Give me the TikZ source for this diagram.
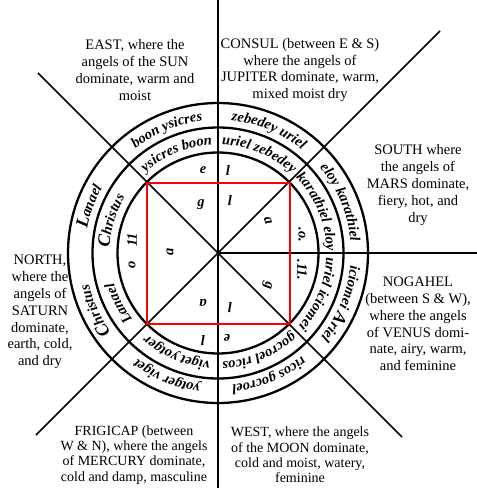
\documentclass[tikz,border=0pt]{standalone}
\usepackage{fontspec}
\setmainfont{Liberation Serif}
\newfontfamily\gothfam{Liberation Serif}
\usetikzlibrary{decorations.text}
\newcommand{\rf}{\gothfam\bfseries\itshape\fontsize{14.5}{15}\selectfont}
\newcommand{\rfbig}{\gothfam\bfseries\itshape\fontsize{18}{18}\selectfont}
\tikzset{
  corner/.style={align=center, font=\fontsize{14.5}{16.8}\selectfont, inner sep=0pt},
  cornersm/.style={align=center, font=\fontsize{14}{15.2}\selectfont, inner sep=0pt},
  ringline/.style={line width=2.3pt},
  spoke/.style={line width=1.6pt},
  glyph/.style={font=\rf, inner sep=0pt},
  redsq/.style={draw=red, line width=2.8pt},
}
\newcommand{\rtext}[4]{\path[decorate,decoration={text along path,text align=center,text={#4}}] (#1:#3pt) arc[start angle=#1,end angle=#2,radius=#3pt];}
\begin{document}
\begin{tikzpicture}[x=1pt,y=1pt]
\useasboundingbox (-218,-235) rectangle (259,253);
\coordinate (c) at (0,0);
\coordinate (top) at (0,253);
\coordinate (bot) at (0,-235);
\coordinate (e) at (259,0);
\coordinate (ne) at (222,222);
\coordinate (nw) at (-180,180);
\coordinate (se) at (184,-184);
\coordinate (sw) at (-182,-182);
% spokes
\draw[spoke] (top) -- (bot);
\draw[spoke] (c) -- (e);
\draw[spoke] (c) -- (ne);
\draw[spoke] (c) -- (nw);
\draw[spoke] (c) -- (se);
\draw[spoke] (c) -- (sw);
% rings
\draw[ringline] (c) circle (100.5pt);
\draw[ringline] (c) circle (125.5pt);
\draw[ringline] (c) circle (150pt);
% red square
\draw[redsq] (-71,70) rectangle (72,-71);
% outer ring texts
\rtext{135}{90}{133}{|\rf|boon ysicres}
\rtext{90}{45}{133}{|\rf|zebedey uriel}
\rtext{45}{0}{133}{|\rf|eloy karathiel}
\rtext{0}{-45}{133}{|\rf|iciomei |\rfbig|A|\rf|riel}
\rtext{-45}{-90}{133}{|\rf|ricos gocroel}
\rtext{-90}{-135}{133}{|\rf|yotger viget}
\rtext{225}{185}{133}{|\rfbig|C|\rf|hristus}
\rtext{180}{140}{133}{|\rfbig|L|\rf|anael}
% inner ring texts
\rtext{135}{90}{108.5}{|\rf|ysicres boon}
\rtext{90}{45}{108.5}{|\rf|uriel zebedey}
\rtext{45}{0}{108.5}{|\rf|karathiel eloy}
\rtext{0}{-45}{108.5}{|\rf|uriel iciomei}
\rtext{-45}{-90}{108.5}{|\rf|gocroel ricos}
\rtext{-90}{-135}{108.5}{|\rf|viget yotger}
\rtext{227}{187}{108.5}{|\rf|Lanael}
\rtext{183}{143}{108.5}{|\rfbig|C|\rf|hristus}
% small glyphs between square and inner circle
\node[glyph] (g1) at (-15,83) {e};
\node[glyph] (g2) at (10,83) {l};
\node[glyph, rotate=-90] (g3) at (84,18) {.o.};
\node[glyph, rotate=-90] (g4) at (84,-17) {.11.};
\node[glyph, rotate=90] (g5) at (-86,13) {11};
\node[glyph, rotate=90] (g6) at (-86,-12) {o};
\node[glyph, rotate=180] (g7) at (-15,-88) {l};
\node[glyph, rotate=180] (g8) at (9,-85) {e};
% glyphs inside square
\node[glyph] (s1) at (-17,48) {g};
\node[glyph] (s2) at (12,53) {l};
\node[glyph, rotate=-70] (s3) at (50,32) {a};
\node[glyph, rotate=-100] (s4) at (49,-32) {g};
\node[glyph, rotate=180] (s5) at (-15,-50) {a};
\node[glyph, rotate=180] (s6) at (12,-55) {l};
\node[glyph, rotate=90] (s7) at (-48,1) {a};
% corner texts
\node[corner] (east) at (-83,183) {EAST, where the\\angels of the SUN\\dominate, warm and\\moist};
\node[corner] (consul) at (82,183) {CONSUL (between E \& S)\\where the angels of\\JUPITER dominate, warm,\\mixed moist dry};
\node[corner] (south) at (200,68) {SOUTH where\\the angels of\\MARS dominate,\\fiery, hot, and\\dry};
\node[corner] (nogahel) at (200,-71) {NOGAHEL\\(between S \& W),\\where the angels\\of VENUS domi-\\nate, airy, warm,\\and feminine};
\node[corner] (north) at (-178,-59) {NORTH,\\where the\\angels of\\SATURN\\dominate,\\earth, cold,\\and dry};
\node[cornersm] (frigicap) at (-84,-202) {FRIGICAP (between\\W \& N), where the angels\\of MERCURY dominate,\\cold and damp, masculine};
\node[cornersm] (west) at (82,-202) {WEST, where the angels\\of the MOON dominate,\\cold and moist, watery,\\feminine};
\end{tikzpicture}
\end{document}
